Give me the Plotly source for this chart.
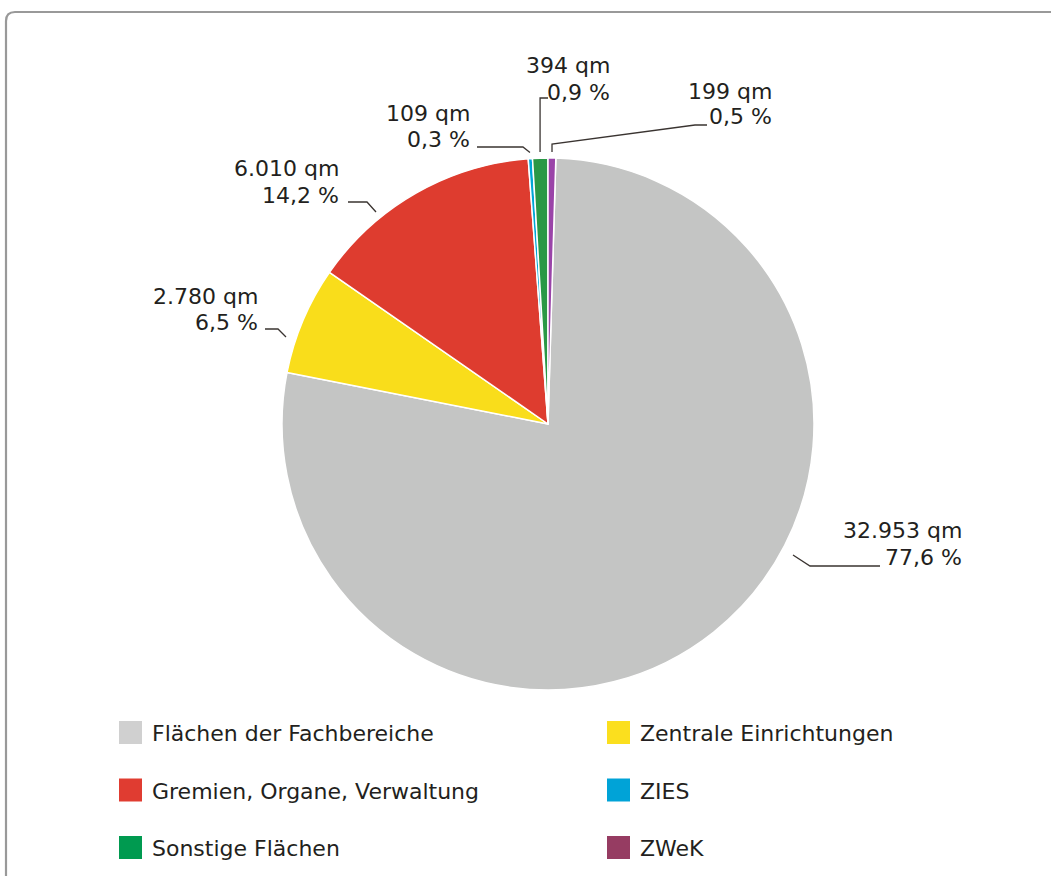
import math
import plotly.graph_objects as go

# ---- data -------------------------------------------------------------
categories = [
    "Flächen der Fachbereiche",
    "Zentrale Einrichtungen",
    "Gremien, Organe, Verwaltung",
    "ZIES",
    "Sonstige Flächen",
    "ZWeK",
]
areas_qm = [32953, 2780, 6010, 109, 394, 199]

# ---- styles -----------------------------------------------------------
slice_colors = ["#c4c5c4", "#f9dd1b", "#de3c2f", "#00a6d6", "#2a9846", "#9a44a8"]
legend_colors = ["#d0d0d0", "#fbdf1e", "#e03c31", "#00a3d7", "#009a50", "#963c62"]
text_color = "#231f20"
line_color = "#3a3431"
font_family = "DejaVu Sans"

W, H = 1051, 876
cx, cy, radius = 548, 424, 266          # pie centre / radius in px


def px_x(x):
    return x / W


def px_y(y):
    return 1 - y / H


total = sum(areas_qm)
value_text = [f"{v:,}".replace(",", ".") + " qm" for v in areas_qm]
share_text = [f"{100 * v / total:.1f}".replace(".", ",") + " %" for v in areas_qm]

# clockwise layout, last slice (ZWeK) ends at 12 o'clock
rotation = 360 * areas_qm[-1] / total
mid_angles = []
acc = rotation
for v in areas_qm:
    span = 360 * v / total
    mid_angles.append(acc + span / 2)
    acc += span


def polar(angle_deg, r):
    a = math.radians(angle_deg)
    return cx + r * math.sin(a), cy - r * math.cos(a)


fig = go.Figure()
fig.add_trace(go.Pie(
    labels=categories,
    values=areas_qm,
    sort=False,
    direction="clockwise",
    rotation=rotation,
    marker=dict(colors=slice_colors, line=dict(color="white", width=1.5)),
    textinfo="none",
    hoverinfo="label+value+percent",
    showlegend=False,
    domain=dict(x=[px_x(cx - radius), px_x(cx + radius)],
                y=[px_y(cy + radius), px_y(cy - radius)]),
))

shapes = []
annotations = []

# outer frame with rounded corner
fx0, fy0, fx1, fy1, rc = 6, 12, 1070, 900, 9
frame_path = (f"M {px_x(fx0)},{px_y(fy1)} L {px_x(fx0)},{px_y(fy0 + rc)} "
              f"Q {px_x(fx0)},{px_y(fy0)} {px_x(fx0 + rc)},{px_y(fy0)} "
              f"L {px_x(fx1)},{px_y(fy0)}")
shapes.append(dict(type="path", xref="paper", yref="paper", path=frame_path,
                   line=dict(color="#999999", width=2.2)))

# ---- slice labels with leader lines -----------------------------------
gap = 6
a_small = [polar(mid_angles[i], radius + gap) for i in range(6)]
leaders = [
    [(793, 555), (810, 566), (880, 566)],
    [(286, 337), (278, 329), (265, 329)],
    [(376, 212), (367, 202), (348, 202)],
    [a_small[3], (a_small[3][0] - 7, 147), (477, 147)],
    [a_small[4], (a_small[4][0], 98), (548, 98)],
    [a_small[5], (a_small[5][0], 144), (695, 125), (707, 125)],
]
label_right = [962, 258, 339, 470, 610, 772]
label_rows = [(530, 557), (296, 322), (168, 195), (114, 139), (65, 92), (91, 117)]

for i in range(len(categories)):
    pts = leaders[i]
    path = "M " + " L ".join(f"{px_x(x)},{px_y(y)}" for x, y in pts)
    shapes.append(dict(type="path", xref="paper", yref="paper", path=path,
                       line=dict(color=line_color, width=1.3)))
    for txt, yy in zip((value_text[i], share_text[i]), label_rows[i]):
        annotations.append(dict(
            x=px_x(label_right[i] + 2), y=px_y(yy), xref="paper", yref="paper",
            text=txt, showarrow=False, xanchor="right", yanchor="middle",
            align="right", font=dict(family=font_family, size=22, color=text_color),
        ))

# ---- legend (two columns) ----------------------------------------------
col_x = [119, 607]
row_y = [732.5, 790, 847.5]
sw = 23
for i, name in enumerate(categories):
    x0 = col_x[i % 2]
    yc = row_y[i // 2]
    shapes.append(dict(type="rect", xref="paper", yref="paper",
                       x0=px_x(x0), x1=px_x(x0 + sw),
                       y0=px_y(yc + sw / 2), y1=px_y(yc - sw / 2),
                       fillcolor=legend_colors[i], line=dict(width=0)))
    annotations.append(dict(
        x=px_x(x0 + sw + 8), y=px_y(yc + 1), xref="paper", yref="paper",
        text=name, showarrow=False, xanchor="left", yanchor="middle",
        font=dict(family=font_family, size=22, color=text_color),
    ))

fig.update_layout(
    width=W, height=H,
    margin=dict(l=0, r=0, t=0, b=0),
    paper_bgcolor="white",
    plot_bgcolor="white",
    shapes=shapes,
    annotations=annotations,
    font=dict(family=font_family, color=text_color),
)

fig.write_html("out.html")
